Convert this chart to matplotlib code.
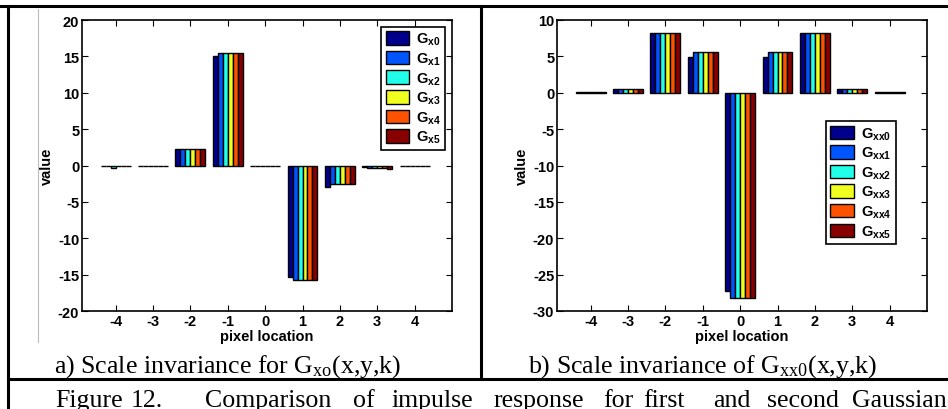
import matplotlib.pyplot as plt
import numpy as np
from matplotlib.lines import Line2D

plt.rcParams['mathtext.fontset'] = 'custom'
plt.rcParams['mathtext.rm'] = 'Liberation Serif'
plt.rcParams['mathtext.it'] = 'Liberation Serif'
plt.rcParams['mathtext.sf'] = 'Liberation Sans:bold'

pixels = [-4, -3, -2, -1, 0, 1, 2, 3, 4]
colors = ['#00008c', '#0055ff', '#22ffe8', '#f0ff20', '#ff5200', '#880000']

labels_a = [r'$\mathsf{G_{x0}}$', r'$\mathsf{G_{x1}}$', r'$\mathsf{G_{x2}}$',
            r'$\mathsf{G_{x3}}$', r'$\mathsf{G_{x4}}$', r'$\mathsf{G_{x5}}$']
labels_b = [r'$\mathsf{G_{xx0}}$', r'$\mathsf{G_{xx1}}$', r'$\mathsf{G_{xx2}}$',
            r'$\mathsf{G_{xx3}}$', r'$\mathsf{G_{xx4}}$', r'$\mathsf{G_{xx5}}$']

# values per scale (rows) at pixel locations -4..4 (columns)
gx = [
    [-0.1, -0.1, 2.2, 15.1, -0.1, -15.3, -2.9, -0.2, -0.1],
    [-0.1, -0.1, 2.2, 15.5, -0.1, -15.7, -2.5, -0.3, -0.1],
    [-0.4, -0.1, 2.2, 15.5, -0.1, -15.7, -2.5, -0.4, -0.1],
    [-0.1, -0.1, 2.2, 15.5, -0.1, -15.7, -2.5, -0.3, -0.1],
    [-0.1, -0.1, 2.2, 15.5, -0.1, -15.7, -2.5, -0.4, -0.1],
    [-0.1, -0.1, 2.2, 15.5, -0.1, -15.7, -2.5, -0.5, -0.1],
]
gxx = [
    [0.05, 0.45, 8.2, 4.9, -27.2, 4.9, 8.2, 0.45, 0.05],
    [0.05, 0.45, 8.2, 5.55, -28.2, 5.55, 8.2, 0.45, 0.05],
    [0.05, 0.45, 8.2, 5.55, -28.2, 5.55, 8.2, 0.45, 0.05],
    [0.05, 0.45, 8.2, 5.55, -28.2, 5.55, 8.2, 0.45, 0.05],
    [0.05, 0.45, 8.2, 5.55, -28.2, 5.55, 8.2, 0.45, 0.05],
    [0.05, 0.45, 8.2, 5.55, -28.2, 5.55, 8.2, 0.45, 0.05],
]

W, H = 948, 410
fig = plt.figure(figsize=(W / 100, H / 100), dpi=100)


def px(x0, y0, x1, y1):
    return [x0 / W, 1 - y1 / H, (x1 - x0) / W, (y1 - y0) / H]


tick_font = dict(family='Liberation Sans', weight='bold', size=10.5)


def draw(ax, data, labels, ylim, yticks, legend_loc):
    x = np.array(pixels, dtype=float)
    n = len(data)
    bw = 0.8 / n
    for i, vals in enumerate(data):
        ax.bar(x - 0.4 + bw * (i + 0.5), vals, width=bw, color=colors[i],
               edgecolor='black', linewidth=1.0, label=labels[i])
    ax.set_xlim(-4.9, 5.0)
    ax.set_ylim(*ylim)
    ax.set_xticks(pixels)
    ax.set_yticks(yticks)
    ax.set_xticklabels([str(p) for p in pixels], fontdict=tick_font)
    ax.set_yticklabels([str(t) for t in yticks], fontdict=tick_font)
    ax.tick_params(direction='in', top=True, right=True, length=4, width=0.8, pad=2)
    for s in ax.spines.values():
        s.set_linewidth(1.2)
    ax.set_xlabel('pixel location', fontdict=tick_font, labelpad=1)
    ax.set_ylabel('value', fontdict=tick_font)
    ax.yaxis.set_label_coords(-0.075, 0.5)
    leg = ax.legend(loc=legend_loc, prop=dict(family='Liberation Sans', weight='bold', size=10.5),
                    fancybox=False, framealpha=1, edgecolor='black',
                    handlelength=1.6, handleheight=1.05, labelspacing=0.22,
                    borderpad=0.3, handletextpad=0.5, borderaxespad=0.45)
    leg.get_frame().set_linewidth(1.2)
    return leg


ax1 = fig.add_axes(px(82, 21, 452, 312))
draw(ax1, gx, labels_a, (-20, 20), list(range(-20, 21, 5)), 'upper right')

ax2 = fig.add_axes(px(557, 21, 927, 312))
draw(ax2, gxx, labels_b, (-30, 10), list(range(-30, 11, 5)), (0.727, 0.23))

# table frame
lw = 2.2
for (x0, y0, x1, y1, c, w) in [
    (0, 7, W, 7, 'black', lw),
    (8, 7, 8, H, 'black', lw),
    (481, 7, 481, 380, 'black', lw),
    (8, 380, W, 380, 'black', lw),
    (38, 10, 38, 343, '#bbbbbb', 0.8),
]:
    fig.add_artist(Line2D([x0 / W, x1 / W], [1 - y0 / H, 1 - y1 / H],
                          color=c, linewidth=w, transform=fig.transFigure))

serif = dict(family='Liberation Serif', size=18.6)
fig.text(54 / W, 1 - 373 / H, r'a) Scale invariance for G$_\mathrm{xo}$(x,y,k)',
         ha='left', va='baseline', **serif)
fig.text(528 / W, 1 - 373 / H, r'b) Scale invariance of G$_\mathrm{xx0}$(x,y,k)',
         ha='left', va='baseline', **serif)

# justified caption, one word at a time
words = ['Figure', '12.', 'Comparison', 'of', 'impulse', 'response', 'for',
         'first', 'and', 'second', 'Gaussian']
word_x = [55, 131, 205, 353, 392, 493, 603, 643, 713, 767, 852]
for w, xw in zip(words, word_x):
    fig.text(xw / W, 1 - 407 / H, w, ha='left', va='baseline', **serif)

fig.savefig('out.png', dpi=100)
